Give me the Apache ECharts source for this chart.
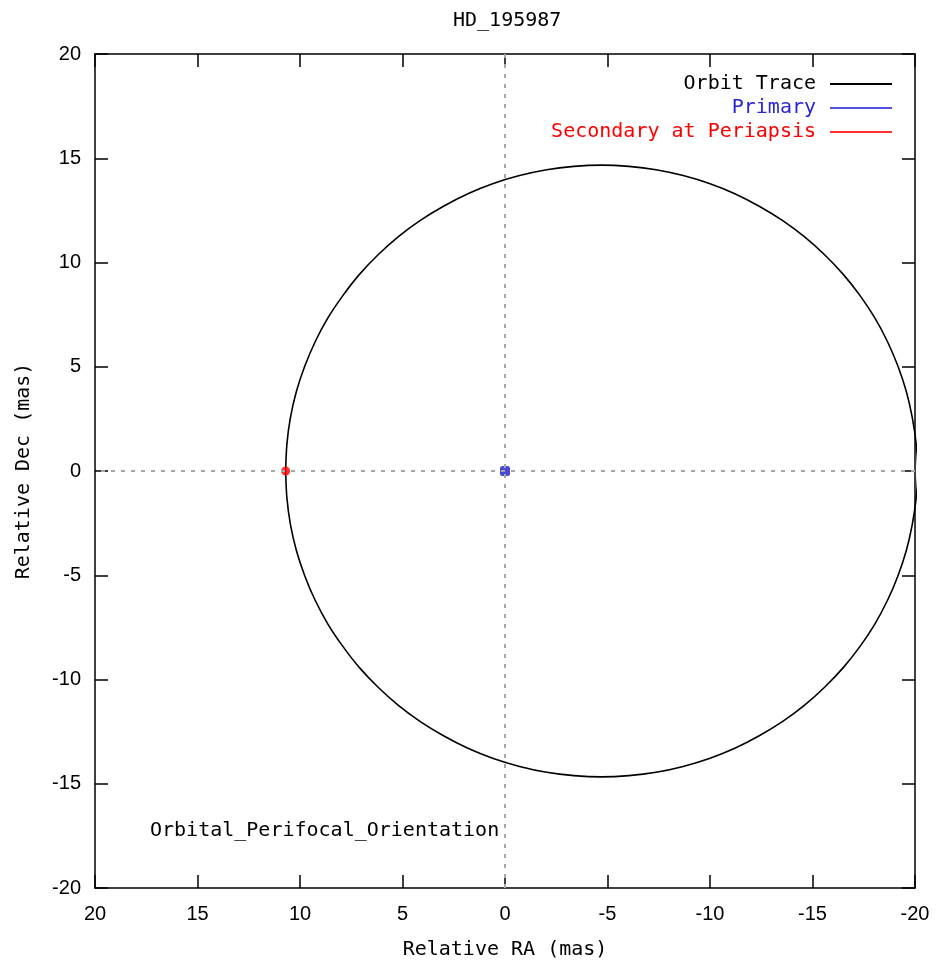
<!DOCTYPE html>
<html>
<head>
<meta charset="utf-8">
<script src="https://cdn.jsdelivr.net/npm/echarts@6/dist/echarts.min.js"></script>
<style>html,body{margin:0;padding:0;background:#fff;}#c{width:940px;height:963px;}</style>
</head>
<body>
<div id="c"></div>
<script>
// Data
const titleText = 'HD_195987';
const orbitRA = [10.70, 10.64, 10.47, 10.18, 9.77, 9.26, 8.64, 7.91, 7.10, 6.19, 5.20, 4.13, 3.00, 1.81, 0.57, -0.71, -2.03, -3.36,
  -4.70, -6.04, -7.37, -8.69, -9.97, -11.21, -12.40, -13.53, -14.60, -15.59, -16.50, -17.32, -18.04, -18.66, -19.17, -19.58, -19.87, -20.06,
  -20.14, -20.06, -19.87, -19.58, -19.17, -18.66, -18.04, -17.32, -16.50, -15.59, -14.60, -13.53, -12.40, -11.21, -9.97, -8.69, -7.37, -6.04,
  -4.70, -3.36, -2.03, -0.71, 0.57, 1.81, 3.00, 4.13, 5.20, 6.19, 7.10, 7.91, 8.64, 9.26, 9.77, 10.18, 10.47, 10.64, 10.70];
const orbitDec = [0, 1.28, 2.55, 3.80, 5.02, 6.20, 7.34, 8.41, 9.43, 10.37, 11.24, 12.02, 12.70, 13.30, 13.79, 14.17, 14.45, 14.61,
  14.67, 14.61, 14.45, 14.17, 13.79, 13.30, 12.70, 12.02, 11.24, 10.37, 9.43, 8.41, 7.34, 6.20, 5.02, 3.80, 2.55, 1.28,
  0, -1.28, -2.55, -3.80, -5.02, -6.20, -7.34, -8.41, -9.43, -10.37, -11.24, -12.02, -12.70, -13.30, -13.79, -14.17, -14.45, -14.61,
  -14.67, -14.61, -14.45, -14.17, -13.79, -13.30, -12.70, -12.02, -11.24, -10.37, -9.43, -8.41, -7.34, -6.20, -5.02, -3.80, -2.55, -1.28, 0];
const primaryRA = [0];
const primaryDec = [0];
const secondaryRA = [10.7];
const secondaryDec = [0];
const axisMin = -20, axisMax = 20, axisStep = 5;
const seriesNames = ['Orbit Trace', 'Primary', 'Secondary at Periapsis'];
const seriesColors = ['#000000', '#2626d6', '#ff0000'];
const annotation = 'Orbital_Perifocal_Orientation';
const xName = 'Relative RA (mas)';
const yName = 'Relative Dec (mas)';

const mono = '"DejaVu Sans Mono", "Liberation Mono", monospace';
const sans = '"Liberation Sans", Arial, sans-serif';

function zip(a, b) { return a.map((v, i) => [v, b[i]]); }

const chart = echarts.init(document.getElementById('c'), null, {renderer: 'canvas'});

function axisBase(extra, labelMargin) {
  return Object.assign({
    type: 'value', min: axisMin, max: axisMax, interval: axisStep,
    axisLine: {show: true, onZero: false, lineStyle: {color: '#000', width: 1.5}},
    axisTick: {show: true, inside: true, length: 13, lineStyle: {color: '#000', width: 1.5}},
    splitLine: {show: false},
    axisLabel: {show: true, color: '#000', fontFamily: sans, fontSize: 20, margin: labelMargin || 14}
  }, extra);
}

chart.setOption({
  animation: false,
  backgroundColor: '#fff',
  title: {
    text: titleText, left: 448, top: 6,
    textStyle: {fontFamily: mono, fontSize: 20, fontWeight: 'normal', color: '#000'}
  },
  grid: {left: 95, right: 25, top: 54, bottom: 75, containLabel: false, outerBoundsMode: 'none'},
  legend: {
    orient: 'vertical', right: 43, top: 67, align: 'right',
    itemWidth: 62, itemHeight: 2, itemGap: 0,
    selectedMode: false,
    textStyle: {fontFamily: mono, fontSize: 20, lineHeight: 24, padding: [0, 9, 0, 0]},
    data: seriesNames.map((n, i) => ({
      name: n, icon: 'rect',
      itemStyle: {color: seriesColors[i]},
      textStyle: {color: seriesColors[i]}
    }))
  },
  xAxis: [
    axisBase({inverse: true, position: 'bottom', name: xName, nameLocation: 'middle', nameGap: 52,
      nameTextStyle: {fontFamily: mono, fontSize: 20, color: '#000'}}, 16),
    axisBase({inverse: true, position: 'top', axisLabel: {show: false}})
  ],
  yAxis: [
    axisBase({position: 'left', name: yName, nameLocation: 'middle', nameGap: 61,
      nameTextStyle: {fontFamily: mono, fontSize: 20, color: '#000'}}),
    axisBase({position: 'right', axisLabel: {show: false}})
  ],
  graphic: [{
    type: 'text', left: 150, top: 821,
    style: {text: annotation, font: '20px ' + mono, fill: '#000'}
  }],
  series: [
    {
      name: seriesNames[0], type: 'line', data: zip(orbitRA, orbitDec),
      smooth: 0.3, showSymbol: false, symbol: 'none', clip: true,
      lineStyle: {color: seriesColors[0], width: 1.6},
      itemStyle: {color: seriesColors[0]},
      markLine: {
        silent: true, symbol: 'none', animation: false,
        label: {show: false},
        lineStyle: {color: '#a8a8a8', type: [4, 6], width: 2},
        data: [{xAxis: 0}, {yAxis: 0}]
      },
      z: 3
    },
    {
      name: seriesNames[1], type: 'scatter', data: zip(primaryRA, primaryDec),
      symbol: 'roundRect', symbolSize: 10,
      itemStyle: {color: '#1c1cc8'}, z: 4
    },
    {
      name: seriesNames[2], type: 'scatter', data: zip(secondaryRA, secondaryDec),
      symbol: 'circle', symbolSize: 9,
      itemStyle: {color: seriesColors[2]}, z: 4
    }
  ]
});
</script>
</body>
</html>
